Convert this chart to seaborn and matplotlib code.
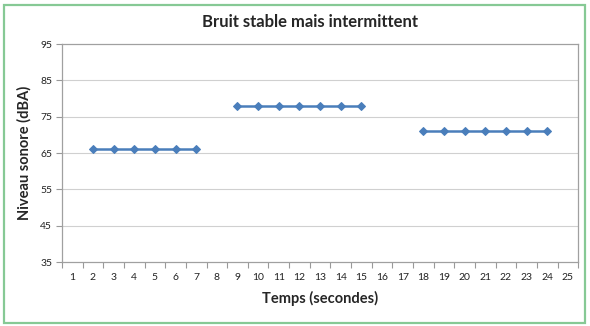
import numpy as np
import pandas as pd
import matplotlib
matplotlib.use("Agg")
import matplotlib.pyplot as plt
import seaborn as sns
from matplotlib.patches import Rectangle

seconds = list(range(1, 26))
niveau = [np.nan, 66, 66, 66, 66, 66, 66, np.nan,
          78, 78, 78, 78, 78, 78, 78, np.nan, np.nan,
          71, 71, 71, 71, 71, 71, 71, np.nan]
y_ticks = [35, 45, 55, 65, 75, 85, 95]
title = "Bruit stable mais intermittent"
xlabel = "Temps (secondes)"
ylabel = "Niveau sonore (dBA)"

sns.set_theme(style="white")
plt.rcParams['font.family'] = ['Lato', 'DejaVu Sans']

df = pd.DataFrame({"t": seconds, "n": niveau})
df["seg"] = df["n"].isna().cumsum()
df = df.dropna()

fig = plt.figure(figsize=(5.9, 3.26), dpi=100)
ax = fig.add_axes([0.105, 0.196, 0.875, 0.669])

sns.lineplot(data=df, x="t", y="n", units="seg", estimator=None,
             color="#4a7ebb", marker="D", markersize=4.5, linewidth=1.8,
             markeredgecolor="#4a7ebb", ax=ax)

ax.set_xlim(0.5, 25.5)
ax.set_ylim(35, 95)
ax.set_xticks(seconds)
ax.set_xticklabels([str(s) for s in seconds], fontsize=7.5, color="#222222")
ax.set_yticks(y_ticks)
ax.set_yticklabels([str(v) for v in y_ticks], fontsize=7.5, color="#222222")
ax.set_xticks(np.arange(0.5, 26, 1), minor=True)
ax.tick_params(axis="x", which="major", length=0, pad=8)
ax.tick_params(axis="x", which="minor", length=4, color="#999999", width=0.8, bottom=True)
ax.tick_params(axis="y", which="major", length=4, color="#999999", width=0.8, left=True, pad=3)
for v in y_ticks[1:-1]:
    ax.axhline(v, color="#d0d0d0", linewidth=0.8, zorder=0)
for s in ax.spines.values():
    s.set_visible(True)
    s.set_color("#a0a0a0")
    s.set_linewidth(0.9)

ax.set_xlabel(xlabel, fontsize=10.5, fontweight="bold", labelpad=6)
ax.set_ylabel(ylabel, fontsize=10.5, fontweight="bold", labelpad=6)
fig.text(0.525, 0.932, title, ha="center", va="center", fontsize=12, fontweight="bold")

fig.patches.append(Rectangle((0.006, 0.01), 0.985, 0.975, transform=fig.transFigure,
                             fill=False, edgecolor="#86c995", linewidth=1.6))

fig.savefig("out.png", dpi=100)
